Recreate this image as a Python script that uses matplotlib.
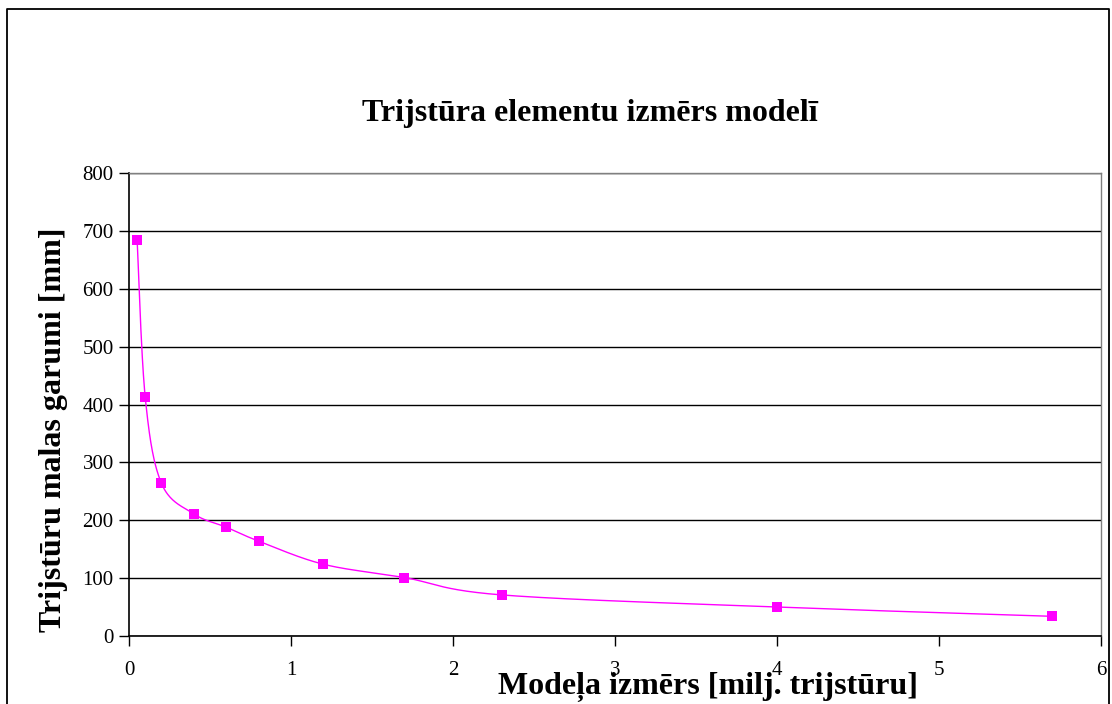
import numpy as np
import matplotlib
matplotlib.use("Agg")
import matplotlib.pyplot as plt
from matplotlib.lines import Line2D

# Model size (million triangles) vs. mean triangle edge length (mm)
model_size = [0.05, 0.1, 0.2, 0.4, 0.6, 0.8, 1.2, 1.7, 2.3, 4.0, 5.7]
edge_length = [685, 413, 264, 211, 188, 164, 124, 101, 71, 50, 34]

x_ticks = [0, 1, 2, 3, 4, 5, 6]
y_ticks = [0, 100, 200, 300, 400, 500, 600, 700, 800]

title_text = "Trijstūra elementu izmērs modelī"
x_label = "Modeļa izmērs [milj. trijstūru]"
y_label = "Trijstūru malas garumi [mm]"

SERIF = "Liberation Serif"
MAGENTA = "#FF00FF"


def smooth_curve(xs, ys, n=40):
    """Smoothed path through the points (cubic Bezier, 1/6 tangent rule)."""
    pts = np.column_stack([xs, ys]).astype(float)
    padded = np.vstack([pts[0], pts, pts[-1]])
    t = np.linspace(0, 1, n)[1:]
    out = [pts[0]]
    for i in range(len(pts) - 1):
        p0, p1, p2, p3 = padded[i], padded[i + 1], padded[i + 2], padded[i + 3]
        c1 = p1 + (p2 - p0) / 6.0
        c2 = p2 - (p3 - p1) / 6.0
        seg = (((1 - t) ** 3)[:, None] * p1
               + (3 * (1 - t) ** 2 * t)[:, None] * c1
               + (3 * (1 - t) * t ** 2)[:, None] * c2
               + (t ** 3)[:, None] * p2)
        out.extend(seg)
    return np.array(out)


fig = plt.figure(figsize=(11.12, 7.04), dpi=100)
fig.patch.set_facecolor("white")

# Outer chart frame (open at the bottom)
fig.add_artist(Line2D([7 / 1112, 7 / 1112, 1109 / 1112, 1109 / 1112],
                      [0.0, 1 - 9 / 704, 1 - 9 / 704, 0.0],
                      transform=fig.transFigure, color="black", lw=1.3))

ax = fig.add_axes([129 / 1112, 1 - 636 / 704, (1101 - 129) / 1112, (636 - 173) / 704])

curve = smooth_curve(model_size, edge_length)
ax.plot(curve[:, 0], curve[:, 1], color=MAGENTA, lw=1.0, zorder=3)
ax.plot(model_size, edge_length, linestyle="none", marker="s", markersize=7.2,
        color=MAGENTA, markeredgewidth=0, zorder=4)

ax.set_xlim(0, 6)
ax.set_ylim(0, 800)
ax.set_xticks(x_ticks)
ax.set_yticks(y_ticks)
ax.set_xticklabels([str(v) for v in x_ticks])
ax.set_yticklabels([str(v) for v in y_ticks])

ax.grid(axis="y", color="black", lw=1.0, zorder=1)
ax.set_axisbelow(True)

for side in ("left", "bottom"):
    ax.spines[side].set_color("black")
    ax.spines[side].set_linewidth(1.2)
for side in ("top", "right"):
    ax.spines[side].set_color("#808080")
    ax.spines[side].set_linewidth(1.0)

ax.tick_params(axis="x", direction="out", length=7, width=1.0, pad=11,
               labelsize=15)
ax.tick_params(axis="y", direction="out", length=7, width=1.0, pad=4,
               labelsize=15)
for lbl in ax.get_xticklabels() + ax.get_yticklabels():
    lbl.set_fontfamily(SERIF)

fig.text(590 / 1112, 1 - 113 / 704, title_text, ha="center", va="center",
         fontsize=23, fontweight="bold", family=SERIF)
fig.text(708 / 1112, 1 - 687 / 704, x_label, ha="center", va="center",
         fontsize=23, fontweight="bold", family=SERIF)
fig.text(54 / 1112, 1 - 430 / 704, y_label, ha="center", va="center",
         rotation=90, fontsize=23, fontweight="bold", family=SERIF)

fig.savefig("out.png", dpi=100, facecolor="white")
